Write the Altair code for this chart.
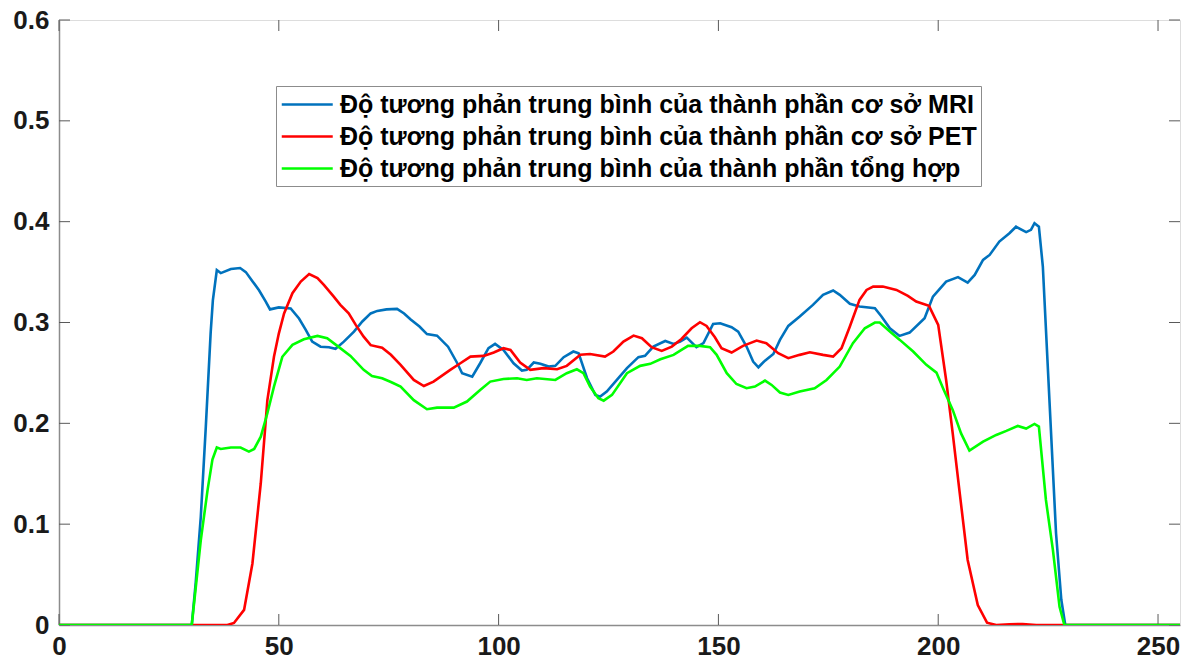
import altair as alt
import pandas as pd

# ---- data ----
mri_x = [0, 30.2, 31.1, 32.25, 33.4, 34.5, 35.0, 35.9, 36.8, 39.1, 41.2, 42.5, 44.0, 45.5, 47.0, 48.0,
         50.0, 52.7, 54.6, 56.1, 57.6, 59.5, 61.4, 62.9, 64.8, 67.1, 69.0, 70.9, 72.4, 74.5, 76.9, 78.5,
         80.0, 82.0, 83.7, 86.0, 88.5, 90.6, 91.7, 94.0, 95.8, 97.7, 99.2, 101.1, 103.4, 105.3, 106.4,
         108.0, 109.5, 111.4, 112.9, 114.8, 117.0, 118.2, 120.1, 122.0, 123.1, 124.6, 126.9, 129.2,
         131.8, 133.3, 135.2, 137.9, 139.8, 141.3, 142.8, 145.0, 146.6, 148.8, 150.4, 153.0, 154.5,
         156.4, 157.9, 159.1, 160.6, 162.5, 164.0, 165.9, 168.5, 171.5, 173.8, 176.1, 177.6, 179.9,
         182.1, 185.6, 187.1, 189.0, 191.2, 193.5, 196.9, 198.8, 201.8, 204.5, 206.7, 208.3, 210.2,
         211.7, 213.9, 216.2, 217.7, 220.0, 221.1, 221.9, 222.9, 223.8, 225.3, 226.8, 228.0, 228.9, 255]
mri_y = [0, 0, 0.042, 0.107, 0.197, 0.29, 0.322, 0.352, 0.349, 0.353, 0.354, 0.350, 0.341, 0.332, 0.321, 0.313,
         0.315, 0.314, 0.304, 0.293, 0.281, 0.276, 0.2755, 0.274, 0.281, 0.291, 0.301, 0.309, 0.3115, 0.313, 0.3135, 0.309,
         0.303, 0.296, 0.2885, 0.287, 0.276, 0.2596, 0.2497, 0.2463, 0.2596, 0.2745, 0.2788, 0.2728, 0.2596, 0.2523, 0.253,
         0.2603, 0.259, 0.2563, 0.257, 0.2656, 0.2712, 0.2695, 0.245, 0.2282, 0.2265, 0.2315, 0.243, 0.2547,
         0.2656, 0.2669, 0.2761, 0.2817, 0.2788, 0.281, 0.285, 0.2755, 0.2795, 0.2986, 0.2993, 0.2953, 0.291,
         0.2761, 0.2612, 0.2556, 0.2622, 0.2688, 0.2827, 0.2966, 0.306, 0.3175, 0.3274, 0.3317, 0.3274, 0.3185,
         0.3158, 0.3142, 0.306, 0.2943, 0.2867, 0.29, 0.3043, 0.3257, 0.3406, 0.345, 0.3396, 0.3472, 0.3621,
         0.367, 0.3803, 0.3886, 0.395, 0.3896, 0.3919, 0.3985, 0.395, 0.3555, 0.223, 0.091, 0.025, 0, 0]

pet_x = [0, 38.3, 39.8, 42.1, 44.0, 45.9, 47.4, 48.9, 50.0, 51.2, 53.1, 55.0, 56.9, 58.8, 60.3, 62.5, 64.0,
         65.9, 67.5, 69.3, 70.9, 73.5, 75.5, 77.7, 80.7, 83.0, 85.2, 89.0, 91.3, 93.6, 96.6, 98.9, 101.1,
         102.7, 104.9, 107.2, 110.2, 113.3, 115.5, 118.6, 120.8, 124.2, 126.1, 128.4, 130.7, 132.6, 134.8,
         137.1, 139.4, 141.6, 143.9, 145.8, 147.3, 149.2, 150.7, 153.0, 155.6, 158.7, 160.9, 163.6, 165.9,
         168.5, 170.8, 173.8, 176.1, 178.0, 179.9, 182.1, 183.7, 185.2, 187.4, 190.5, 193.1, 195.0, 197.9,
         200.0, 201.8, 203.3, 204.9, 206.7, 209.0, 211.1, 213.2, 216.2, 219.2, 222.3, 255]
pet_y = [0, 0, 0.002, 0.015, 0.061, 0.1406, 0.223, 0.266, 0.289, 0.309, 0.329, 0.3406, 0.348, 0.344, 0.337, 0.3257, 0.3175,
         0.309, 0.2976, 0.286, 0.2775, 0.275, 0.268, 0.258, 0.243, 0.237, 0.2414, 0.253, 0.2596, 0.2662, 0.2669, 0.2702, 0.2745,
         0.2728, 0.2603, 0.253, 0.2547, 0.2536, 0.257, 0.268, 0.2688, 0.2662, 0.2712, 0.281, 0.287, 0.2844, 0.2755,
         0.2718, 0.2761, 0.2837, 0.2943, 0.3003, 0.2966, 0.2854, 0.2745, 0.2702, 0.2768, 0.2821, 0.2795, 0.2695, 0.2646,
         0.2679, 0.2705, 0.2679, 0.2662, 0.2745, 0.296, 0.3224, 0.3323, 0.3356, 0.3356, 0.3323, 0.3264, 0.3208, 0.3165,
         0.2976, 0.243, 0.19, 0.1306, 0.0645, 0.0198, 0.0023, 0, 0.0007, 0.001, 0, 0]

fus_x = [0, 30.2, 32.25, 33.8, 34.9, 35.9, 36.8, 39.1, 41.3, 43.2, 44.4, 45.9, 47.4, 48.9, 50.8, 53.1, 55.7,
         58.8, 61.0, 63.3, 66.3, 69.3, 71.2, 73.5, 75.5, 77.7, 80.7, 83.7, 86.0, 89.8, 92.8, 95.8, 98.1, 101.1,
         104.2, 106.4, 108.7, 112.9, 115.5, 117.8, 119.3, 120.8, 122.7, 123.9, 125.8, 129.2, 132.2, 134.5,
         136.8, 139.8, 141.6, 143.1, 145.8, 148.1, 149.6, 151.9, 154.1, 156.4, 158.3, 160.6, 162.1, 164.0,
         165.9, 168.5, 171.9, 174.6, 177.6, 180.6, 183.3, 185.6, 186.7, 189.0, 191.2, 194.3, 197.3, 199.6,
         201.1, 203.3, 205.2, 207.1, 210.2, 213.2, 215.5, 218.1, 220.0, 221.9, 222.9, 224.5, 226.1, 227.6, 228.7, 255]
fus_y = [0, 0, 0.084, 0.134, 0.164, 0.176, 0.1746, 0.176, 0.176, 0.172, 0.1746, 0.1868, 0.21, 0.2364, 0.266, 0.2778, 0.2834,
         0.2867, 0.2844, 0.2768, 0.2669, 0.253, 0.247, 0.2447, 0.241, 0.2364, 0.223, 0.214, 0.2156, 0.2156, 0.2216, 0.2331, 0.2414, 0.244,
         0.2447, 0.243, 0.2447, 0.243, 0.2497, 0.2536, 0.2497, 0.2364, 0.2249, 0.2225, 0.2282, 0.2497, 0.257, 0.259,
         0.2636, 0.2679, 0.2728, 0.2768, 0.2768, 0.2755, 0.2679, 0.2497, 0.239, 0.2348, 0.2364, 0.2424, 0.2381, 0.2305,
         0.2282, 0.2315, 0.2348, 0.243, 0.2563, 0.2795, 0.2943, 0.3, 0.3, 0.291, 0.283, 0.2712, 0.258, 0.2503,
         0.2348, 0.2133, 0.19, 0.1729, 0.1818, 0.1885, 0.1925, 0.1974, 0.1948, 0.1994, 0.1968, 0.124, 0.074, 0.018, 0, 0]

series_names = [
    "Độ tương phản trung bình của thành phần cơ sở MRI",
    "Độ tương phản trung bình của thành phần cơ sở PET",
    "Độ tương phản trung bình của thành phần tổng hợp",
]
series_colors = ["#0072BD", "#FF0000", "#00FF00"]

x_ticks = [0, 50, 100, 150, 200, 250]
y_ticks = [0, 0.1, 0.2, 0.3, 0.4, 0.5, 0.6]

rows = []
for order, (name, xs_, ys_) in enumerate(zip(series_names, [mri_x, pet_x, fus_x], [mri_y, pet_y, fus_y])):
    for i, (xv, yv) in enumerate(zip(xs_, ys_)):
        rows.append({"x": xv, "y": yv, "series": name, "order": order, "i": i})
df = pd.DataFrame(rows)

W, H = 1121, 605
FONT = "Liberation Sans"

xs = alt.Scale(domain=[0, 255], nice=False, zero=False)
ys = alt.Scale(domain=[0, 0.6], nice=False)

lines = alt.Chart(df).mark_line(strokeWidth=2.6, clip=True).encode(
    x=alt.X("x:Q", scale=xs,
            axis=alt.Axis(values=x_ticks, title=None, ticks=False, grid=False,
                          labelFontSize=26, labelFont=FONT, labelFontWeight="bold",
                          labelColor="#1a1a1a", labelPadding=8, domainColor="#8c8c8c",
                          domainWidth=1.5, labelFlush=False)),
    y=alt.Y("y:Q", scale=ys,
            axis=alt.Axis(values=y_ticks, title=None, ticks=False, grid=False, format="~g",
                          labelFontSize=26, labelFont=FONT, labelFontWeight="bold",
                          labelColor="#1a1a1a", labelPadding=10, domainColor="#8c8c8c",
                          domainWidth=1.5)),
    color=alt.Color("series:N", scale=alt.Scale(domain=series_names, range=series_colors),
                    legend=alt.Legend(title=None, orient="none", legendX=217, legendY=66,
                                      symbolType="M-1,0H3", symbolSize=650, symbolStrokeWidth=2.6,
                                      symbolFillColor="transparent",
                                      labelFont=FONT, labelFontSize=25, labelFontWeight="bold",
                                      labelColor="#000000", labelLimit=1000, labelOffset=31,
                                      strokeColor="#8c8c8c", fillColor="white", padding=4,
                                      rowPadding=4)),
    order=alt.Order("i:Q"),
    detail="series:N",
)

xt = pd.DataFrame({"v": x_ticks})
yt = pd.DataFrame({"v": y_ticks})
TL = 11
tick_col = "#595959"
xb = alt.Chart(xt).mark_rule(color=tick_col, strokeWidth=1).encode(
    x=alt.X("v:Q", scale=xs), y=alt.value(H), y2=alt.value(H - TL))
xtop = alt.Chart(xt).mark_rule(color=tick_col, strokeWidth=1).encode(
    x=alt.X("v:Q", scale=xs), y=alt.value(0), y2=alt.value(TL))
yl = alt.Chart(yt).mark_rule(color=tick_col, strokeWidth=1).encode(
    y=alt.Y("v:Q", scale=ys), x=alt.value(0), x2=alt.value(TL))
yr = alt.Chart(yt).mark_rule(color=tick_col, strokeWidth=1).encode(
    y=alt.Y("v:Q", scale=ys), x=alt.value(W - TL), x2=alt.value(W))

chart = alt.layer(xb, xtop, yl, yr, lines).properties(
    width=W, height=H,
    autosize=alt.AutoSizeParams(type="none"),
    padding={"left": 59, "top": 20, "right": 14, "bottom": 41},
).configure_view(stroke="#8c8c8c", strokeWidth=1.5).configure(background="white")

chart.save("out.html", embed_options={"renderer": "svg", "actions": False})
